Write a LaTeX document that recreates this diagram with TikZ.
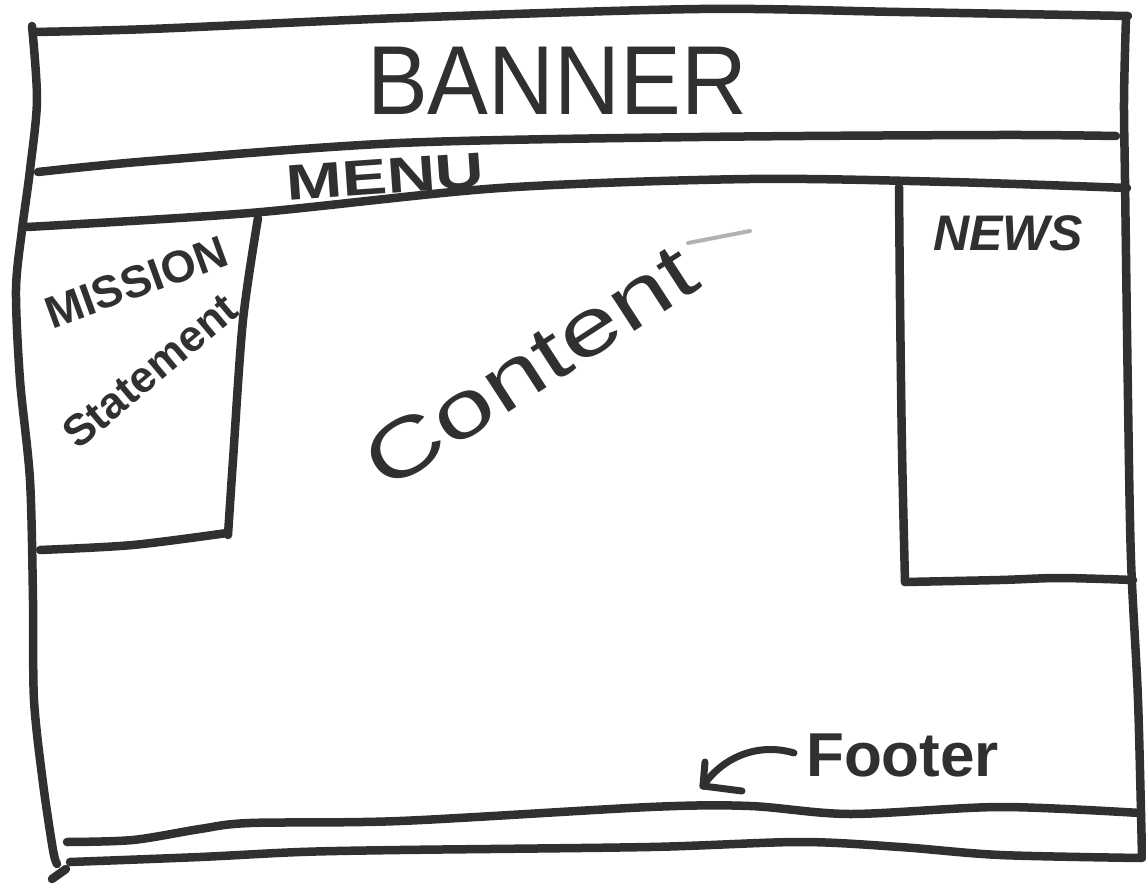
\documentclass[tikz,border=0pt]{standalone}
\usepackage{fontspec}
\setmainfont{Liberation Sans}
\definecolor{ink}{HTML}{303030}
\begin{document}
\begin{tikzpicture}[x=1pt,y=-1pt,
  sk/.style={line width=8.5pt,draw=ink,line cap=round,line join=round},
  skthin/.style={line width=7pt,draw=ink,line cap=round,line join=round},
  lbl/.style={text=ink,inner sep=0pt}]
\useasboundingbox[fill=white] (0,0) rectangle (1146,885);
% outer frame
\draw[sk] plot[smooth] coordinates {(33,32) (150,29) (400,18) (700,9) (900,12) (1128,16)};
\draw[sk] plot[smooth] coordinates {(1126,16) (1124,100) (1125,180) (1128,400) (1131,560) (1138,700) (1142,857)};
\draw[sk] plot[smooth] coordinates {(32,26) (37,100) (30,170) (22,230) (16,290) (20,380) (30,480) (33,600) (34,700) (43,783) (53,850) (57,864)};
\draw[sk] (52,879) -- (66,869);
% banner and menu lines
\draw[sk] plot[smooth] coordinates {(38,172) (150,161) (400,143) (700,137) (1000,135) (1116,136)};
\draw[sk] plot[smooth] coordinates {(27,227) (250,213) (500,188) (750,179) (950,182) (1127,188)};
% mission box
\draw[sk] plot[smooth] coordinates {(258,218) (243,320) (233,460) (228,535)};
\draw[sk] plot[smooth] coordinates {(227,533) (133,545) (40,550)};
% news box
\draw[sk] plot[smooth] coordinates {(899,187) (900,300) (902,450) (905,582)};
\draw[sk] plot[smooth] coordinates {(905,582) (1000,580) (1060,578) (1133,580)};
% footer lines
\draw[sk] plot[smooth] coordinates {(67,842) (133,840) (200,829) (250,823) (400,821) (650,807) (750,806) (850,814) (1000,807) (1140,813)};
\draw[sk] plot[smooth] coordinates {(70,862) (200,857) (300,852) (400,850) (650,847) (800,842) (900,847) (1000,855) (1142,858)};
% texts
\node[lbl,anchor=base] (banner) at (557,115) {\fontsize{98}{98}\selectfont\scalebox{0.93}[1]{BANNER}};
\node[lbl,rotate=4] (menu) at (385,177) {\fontsize{50}{50}\selectfont\bfseries\scalebox{1.35}[1]{MENU}};
\node[lbl,rotate=20] (mission) at (136,282) {\fontsize{45}{45}\selectfont\bfseries MISSION};
\node[lbl,rotate=40] (statement) at (150,371) {\fontsize{44}{44}\selectfont\bfseries Statement};
\node[lbl] (news) at (1008,233) {\fontsize{50}{50}\selectfont\bfseries\itshape NEWS};
\node[lbl,rotate=33] (content) at (530,366) {\fontsize{80}{80}\selectfont\scalebox{1.35}[1]{Content}};
\draw[line width=4pt,draw=gray!60,line cap=round] (688,243) -- (750,231);
\node[lbl,anchor=base west] (footer) at (806,776) {\fontsize{62}{62}\selectfont\bfseries Footer};
% arrow
\coordinate (tip) at (703,786);
\draw[skthin] ([xshift=-12pt,yshift=2pt]footer.west) .. controls (757,742) and (722,758) .. (tip);
\draw[skthin] (tip) -- ++(2,-24);
\draw[skthin] (tip) -- ++(39,5);
\end{tikzpicture}
\end{document}
